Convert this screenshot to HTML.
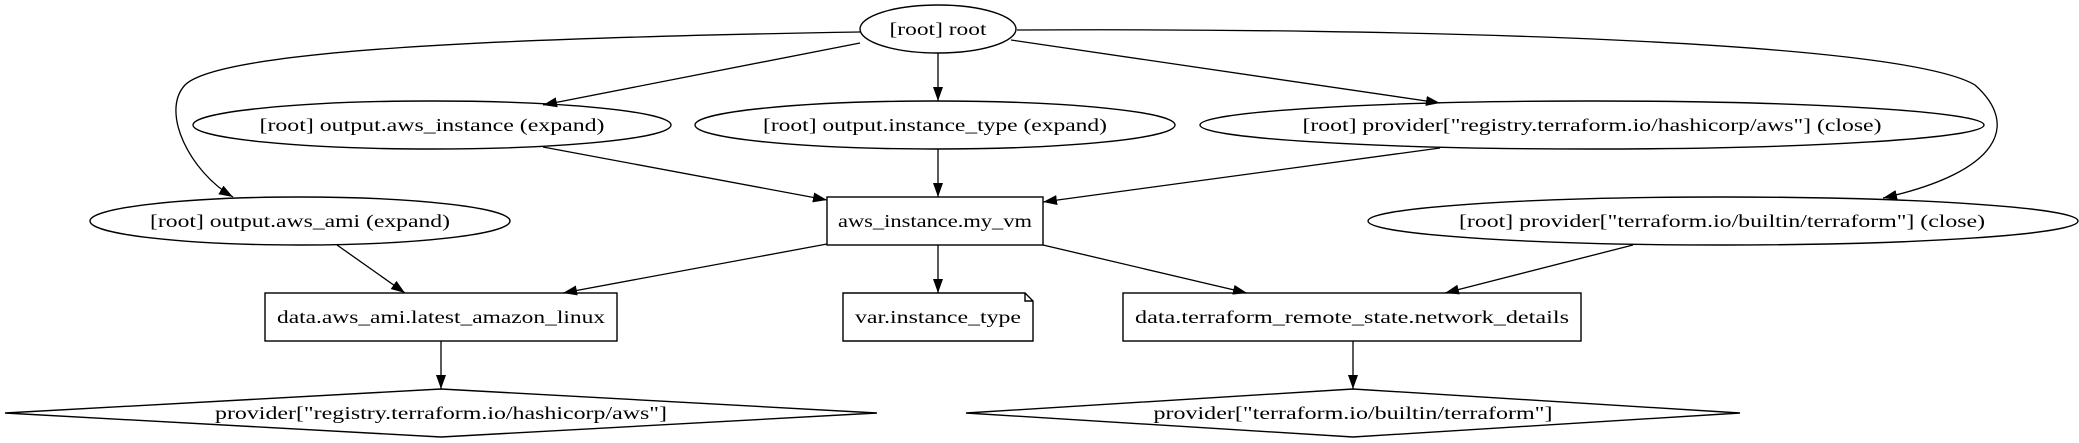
<!DOCTYPE html>
<html><head><meta charset="utf-8"><style>html,body{margin:0;padding:0;background:#fff}svg{display:block}</style></head>
<body>
<svg width="2079" height="443" viewBox="0 0 2079 443" xmlns="http://www.w3.org/2000/svg">
<defs>
<marker id="a" markerUnits="userSpaceOnUse" markerWidth="16" markerHeight="12" refX="14" refY="5" orient="auto">
<path d="M0,0 L14,5 L0,10 z" fill="#000"/>
</marker>
</defs>
<g fill="none" stroke="#000" stroke-width="1.4">
<ellipse cx="938" cy="29" rx="78" ry="24"/>
<ellipse cx="432" cy="125" rx="239" ry="24"/>
<ellipse cx="935" cy="125" rx="240" ry="24"/>
<ellipse cx="1592" cy="125" rx="392" ry="24"/>
<ellipse cx="300" cy="221" rx="210" ry="24"/>
<ellipse cx="1723" cy="221" rx="355" ry="24"/>
<rect x="827" y="197" width="216" height="48"/>
<rect x="265" y="293" width="352" height="48"/>
<path d="M843,293 H1025 L1033,301 V341 H843 Z M1025,293 V301 H1033"/>
<rect x="1123" y="293" width="458" height="48"/>
<polygon points="441,389 877,413 441,437 5,413"/>
<polygon points="1353,389 1740,413 1353,437 966,413"/>
</g>
<g fill="none" stroke="#000" stroke-width="1.3" marker-end="url(#a)">
<path d="M860,43 L543,105"/>
<path d="M938,53 L938,101"/>
<path d="M1011,40 L1440,103"/>
<path d="M860,32 C500,38 220,50 185,85 C160,112 190,172 233,197"/>
<path d="M1017,30 C1400,28 1900,40 1975,85 C2020,125 2000,172 1883,198"/>
<path d="M543,147 L827,200"/>
<path d="M938,149 L938,197"/>
<path d="M1440,148 L1043,202"/>
<path d="M827,244 L563,293"/>
<path d="M938,245 L938,293"/>
<path d="M1043,245 L1247,293"/>
<path d="M337,245 L405,293"/>
<path d="M1633,245 L1445,293"/>
<path d="M441,341 L441,389"/>
<path d="M1353,341 L1353,389"/>
</g>
<g font-family="'Liberation Serif', serif" font-size="18" fill="#000" text-anchor="middle" lengthAdjust="spacingAndGlyphs">
<text x="938" y="35" textLength="97" lengthAdjust="spacingAndGlyphs">[root] root</text>
<text x="432" y="131" textLength="345" lengthAdjust="spacingAndGlyphs">[root] output.aws_instance (expand)</text>
<text x="935" y="131" textLength="344" lengthAdjust="spacingAndGlyphs">[root] output.instance_type (expand)</text>
<text x="1592" y="131" textLength="579" lengthAdjust="spacingAndGlyphs">[root] provider["registry.terraform.io/hashicorp/aws"] (close)</text>
<text x="300" y="227" textLength="300" lengthAdjust="spacingAndGlyphs">[root] output.aws_ami (expand)</text>
<text x="1722" y="227" textLength="526" lengthAdjust="spacingAndGlyphs">[root] provider["terraform.io/builtin/terraform"] (close)</text>
<text x="935" y="227" textLength="194" lengthAdjust="spacingAndGlyphs">aws_instance.my_vm</text>
<text x="441" y="323" textLength="328" lengthAdjust="spacingAndGlyphs">data.aws_ami.latest_amazon_linux</text>
<text x="938" y="323" textLength="166" lengthAdjust="spacingAndGlyphs">var.instance_type</text>
<text x="1352" y="323" textLength="434" lengthAdjust="spacingAndGlyphs">data.terraform_remote_state.network_details</text>
<text x="441" y="419" textLength="452" lengthAdjust="spacingAndGlyphs">provider["registry.terraform.io/hashicorp/aws"]</text>
<text x="1353" y="419" textLength="399" lengthAdjust="spacingAndGlyphs">provider["terraform.io/builtin/terraform"]</text>
</g>
</svg>
</body></html>
